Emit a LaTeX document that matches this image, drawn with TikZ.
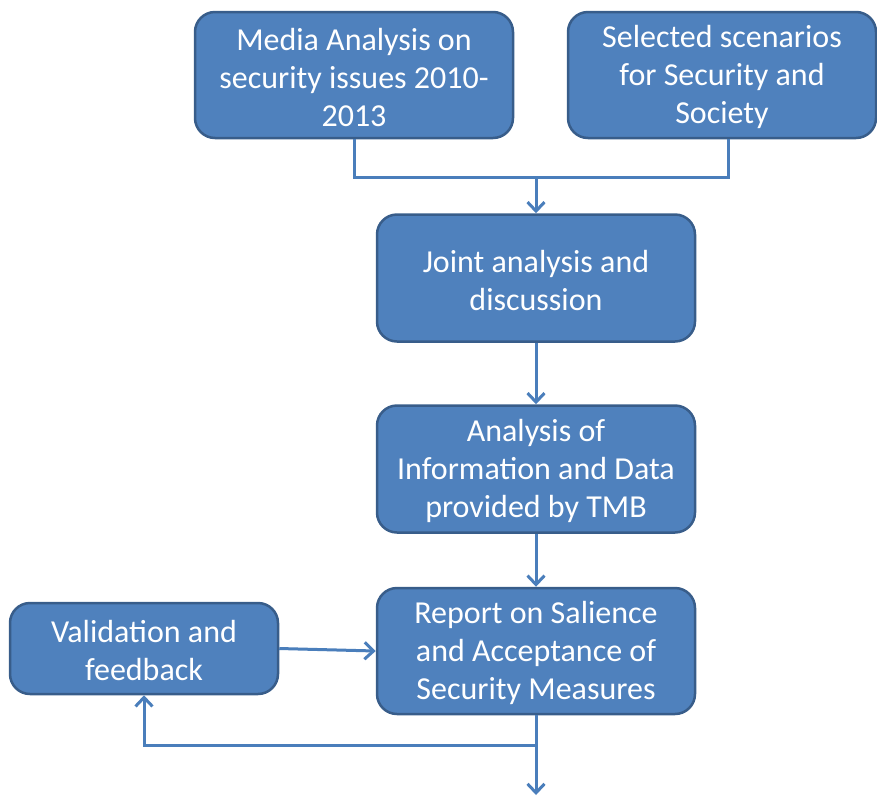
\documentclass[tikz,border=0pt]{standalone}
\usepackage{fontspec}
\setmainfont{Carlito}
\usetikzlibrary{arrows.meta}
\definecolor{boxfill}{HTML}{4F81BD}
\definecolor{boxline}{HTML}{385D8A}
\definecolor{wire}{HTML}{4A7EBB}
\begin{document}
\begin{tikzpicture}[x=1pt,y=-1pt,
  flowbox/.style={draw=boxline, line width=2.5pt, fill=boxfill, rounded corners=20pt,
    inner sep=0pt},
  boxtext/.style={text=white, align=center, inner sep=0pt, yshift=-2pt,
    font=\fontsize{32}{38}\selectfont},
  wireline/.style={draw=wire, line width=3pt},
  wirearrow/.style={wireline, -{Straight Barb[length=9pt,width=17pt,line width=3pt]}}]
\useasboundingbox (0,0) rectangle (877,796);
\clip (0,0) rectangle (877,796);

% process boxes, text set as a centred label
\node[flowbox, minimum width=318pt, minimum height=126pt,
  label={[boxtext]center:{Media Analysis on\\security issues 2010-\\2013}}] (media) at (354,75) {};
\node[flowbox, minimum width=308pt, minimum height=126pt,
  label={[boxtext]center:{Selected scenarios\\for Security and\\Society}}] (sel) at (722,75) {};
\node[flowbox, minimum width=318pt, minimum height=127pt,
  label={[boxtext]center:{Joint analysis and\\discussion}}] (joint) at (536,278) {};
\node[flowbox, minimum width=318pt, minimum height=127pt,
  label={[boxtext]center:{Analysis of\\Information and Data\\provided by TMB}}] (anal) at (536,469) {};
\node[flowbox, minimum width=318pt, minimum height=126pt,
  label={[boxtext]center:{Report on Salience\\and Acceptance of\\Security Measures}}] (report) at (536,651) {};
\node[flowbox, minimum width=268pt, minimum height=91pt,
  label={[boxtext]center:{Validation and\\feedback}}] (valid) at (144,648.5) {};

% junction points
\coordinate (merge) at (536,177);
\coordinate (split) at (536,745);
\coordinate (out) at (536,795);

% connectors
\draw[wireline] (media.south) |- (merge) -| ([xshift=6pt]sel.south);
\draw[wirearrow] (merge) -- (joint.north);
\draw[wirearrow] (joint.south) -- (anal.north);
\draw[wirearrow] (anal.south) -- (report.north);
\draw[wirearrow] (report.south) -- (out);
\draw[wirearrow] (split) -| (valid.south);
\draw[wirearrow] (valid.east) -- (report.west);
\end{tikzpicture}
\end{document}
